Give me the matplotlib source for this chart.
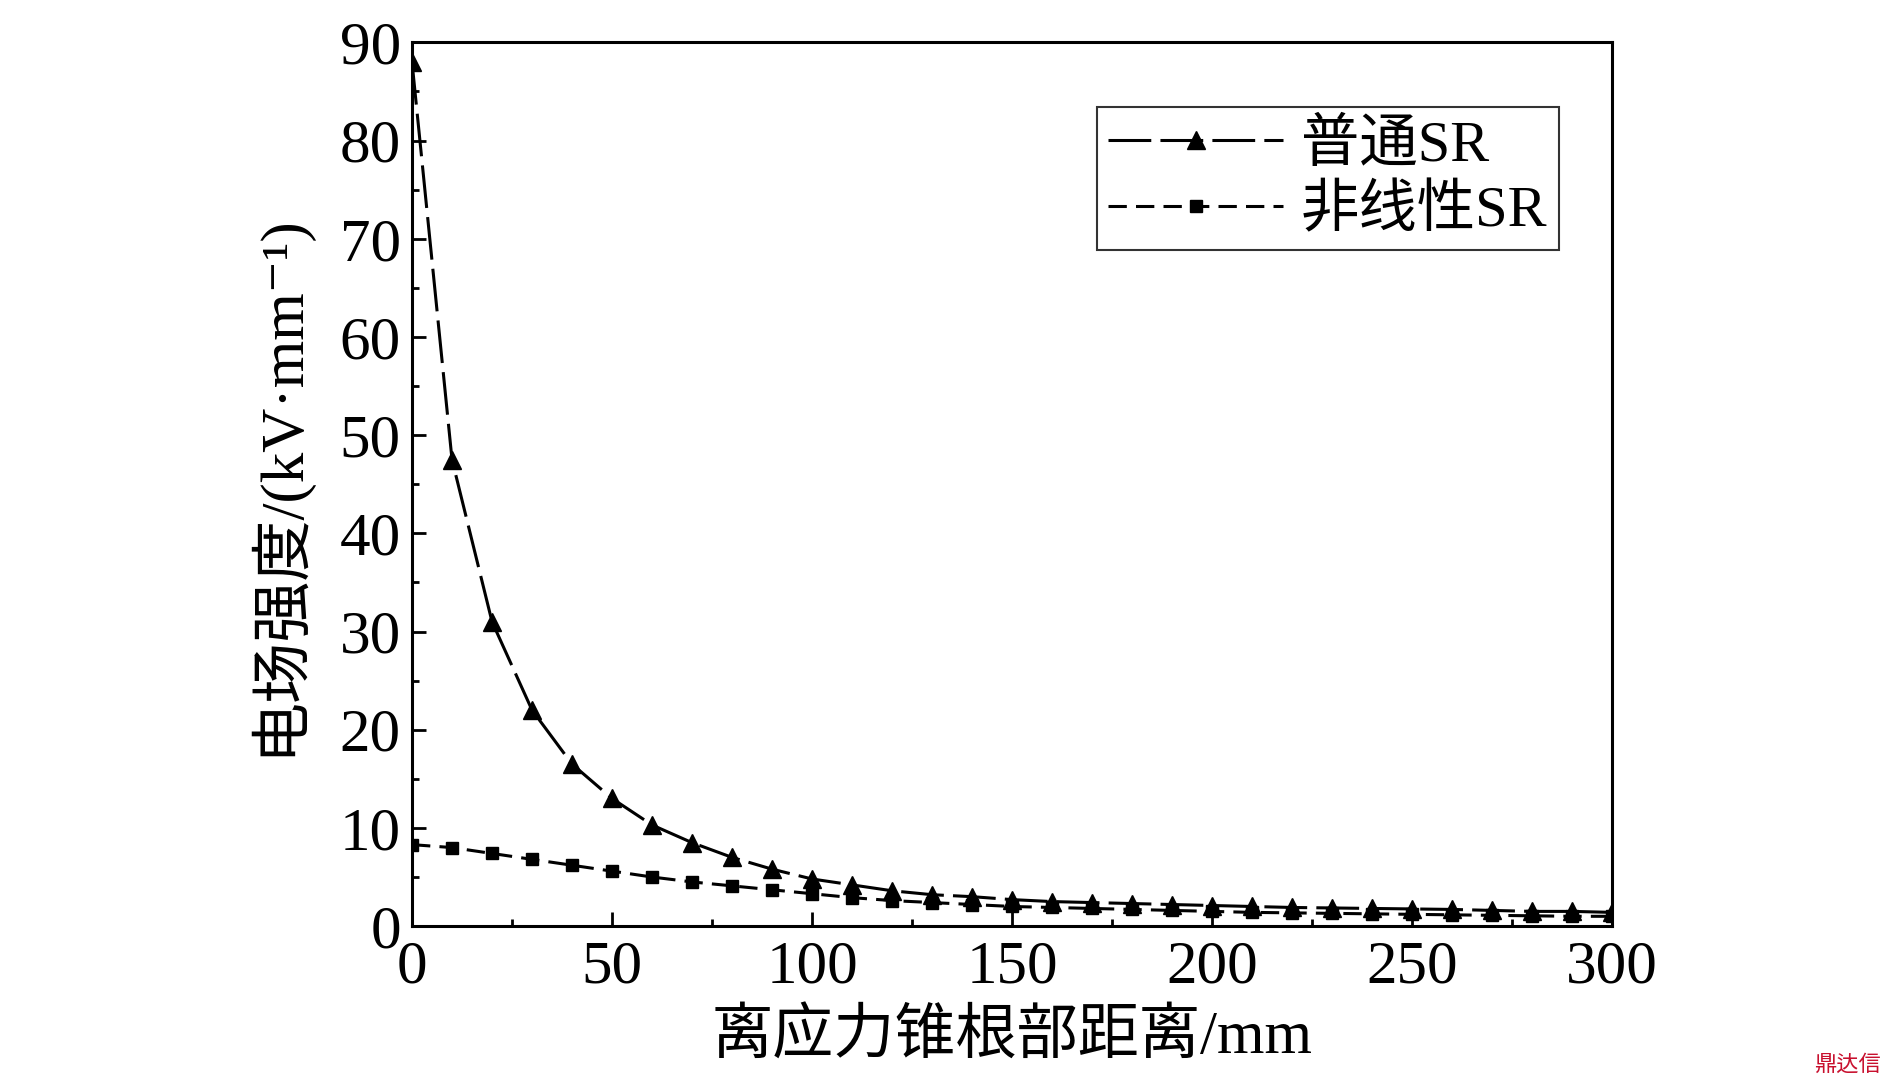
import matplotlib
matplotlib.use("Agg")
import matplotlib.pyplot as plt
from matplotlib import font_manager as fm

x = list(range(0, 301, 10))
putong = [88, 47.5, 31, 22, 16.5, 13, 10.3, 8.5, 7, 5.8, 4.8, 4.2, 3.6, 3.2, 3.0, 2.7,
          2.5, 2.4, 2.3, 2.2, 2.1, 2.0, 1.9, 1.85, 1.8, 1.75, 1.7, 1.6, 1.5, 1.5, 1.4]
feixian = [8.3, 8.0, 7.4, 6.8, 6.2, 5.6, 5.0, 4.5, 4.1, 3.7, 3.3, 2.9, 2.6, 2.4, 2.2, 2.0,
           1.9, 1.8, 1.7, 1.6, 1.5, 1.4, 1.35, 1.3, 1.25, 1.2, 1.15, 1.1, 1.05, 1.0, 1.0]
labels = ["普通SR", "非线性SR"]

names = sorted({f.name for f in fm.fontManager.ttflist})
cjk = next((n for n in ["Noto Sans CJK SC", "Noto Sans CJK JP", "Noto Sans CJK TC", "Noto Sans CJK KR"] if n in names),
           next((n for n in names if "CJK" in n), "DejaVu Sans"))
serif = "Liberation Serif"
plt.rcParams["font.family"] = [serif, "DejaVu Serif", cjk]

fig = plt.figure(figsize=(18.9, 10.87), dpi=100)
ax = fig.add_axes([0.218, 0.148, 0.635, 0.813])
ax.plot(x, putong, color="black", lw=2.2, dashes=(14, 3), marker="^", ms=13, label=labels[0])
ax.plot(x, feixian, color="black", lw=2.2, dashes=(6, 3), marker="s", ms=9, label=labels[1])
ax.set_xlim(0, 300)
ax.set_ylim(0, 90)
ax.set_xticks(range(0, 301, 50))
ax.set_yticks(range(0, 91, 10))
ax.xaxis.set_minor_locator(matplotlib.ticker.MultipleLocator(25))
ax.yaxis.set_minor_locator(matplotlib.ticker.MultipleLocator(5))
ax.tick_params(which="both", direction="in", width=2, top=False, right=False)
ax.tick_params(which="major", length=10, labelsize=44, pad=8)
ax.tick_params(axis="x", which="major", pad=10)
ax.tick_params(which="minor", length=5)
for s in ax.spines.values():
    s.set_linewidth(2.2)
ax.set_xlabel("离应力锥根部距离/mm", fontsize=44, labelpad=10)
ax.set_ylabel("电场强度/(kV·mm⁻¹)", fontsize=44, labelpad=22)
leg = ax.legend(loc="upper right", bbox_to_anchor=(0.98, 0.96), fontsize=42, frameon=True,
                fancybox=False, edgecolor="black", handlelength=3.0, borderpad=0.2,
                labelspacing=0.2, handletextpad=0.3)
leg.get_frame().set_linewidth(1.5)
fig.text(0.995, 0.01, "鼎达信", color="#c8102e", fontsize=16, ha="right", va="bottom", family=cjk)
fig.savefig("out.png", dpi=100)
